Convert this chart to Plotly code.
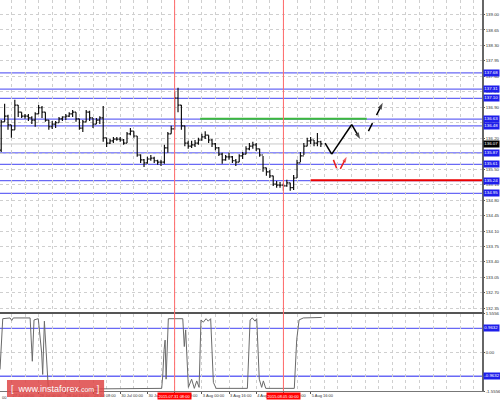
import plotly.graph_objects as go
from plotly.subplots import make_subplots

# ---- time axis: trading hours since 27 Jul 2015 00:00 (weekend skipped), 2-hour bars
bar_hours = list(range(2, 192, 2))

opens = [135.93, 136.57, 136.70, 136.50, 136.39, 136.95, 136.79, 136.70, 136.70, 136.66,
         136.61, 136.75, 136.89, 136.79, 136.61, 136.46, 136.52, 136.55, 136.64, 136.68,
         136.70, 136.75, 136.79, 136.64, 136.43, 136.57, 136.79, 136.66, 136.52, 136.61,
         136.66, 136.21, 136.09, 136.14, 136.18, 136.18, 136.16, 136.09, 136.30, 136.36,
         136.25, 135.82, 135.71, 135.64, 135.73, 135.75, 135.69, 135.66, 135.66, 135.98,
         136.30, 136.41, 137.11, 136.95, 136.48, 136.09, 136.02, 136.05, 136.09, 136.16,
         136.23, 136.27, 136.16, 136.07, 135.98, 135.84, 135.71, 135.78, 135.78, 135.69,
         135.66, 135.80, 135.84, 135.96, 136.02, 136.05, 135.96, 135.82, 135.53, 135.44,
         135.35, 135.16, 135.14, 135.14, 135.12, 135.19, 135.08, 135.30, 135.64, 135.80,
         136.02, 136.14, 136.16, 136.09, 136.12]
highs = [136.61, 136.98, 136.73, 136.50, 137.07, 136.95, 136.79, 136.75, 136.75, 136.70,
         136.79, 136.95, 136.93, 136.79, 136.61, 136.59, 136.59, 136.68, 136.70, 136.75,
         136.79, 136.84, 136.79, 136.64, 136.61, 136.84, 136.82, 136.66, 136.66, 136.70,
         136.93, 136.21, 136.18, 136.23, 136.23, 136.23, 136.18, 136.34, 136.43, 136.36,
         136.25, 135.84, 135.73, 135.78, 135.82, 135.78, 135.71, 135.71, 136.05, 136.34,
         136.48, 137.25, 137.34, 136.95, 136.48, 136.14, 136.14, 136.16, 136.21, 136.30,
         136.36, 136.27, 136.18, 136.09, 136.00, 135.87, 135.82, 135.87, 135.80, 135.73,
         135.84, 135.89, 136.02, 136.09, 136.12, 136.09, 135.96, 135.80, 135.53, 135.48,
         135.35, 135.23, 135.21, 135.19, 135.26, 135.19, 135.37, 135.71, 135.89, 136.09,
         136.21, 136.23, 136.16, 136.32, 136.14]
lows = [135.89, 136.57, 136.39, 136.21, 136.39, 136.68, 136.66, 136.64, 136.59, 136.52,
        136.46, 136.75, 136.66, 136.57, 136.39, 136.41, 136.43, 136.55, 136.59, 136.61,
        136.68, 136.68, 136.57, 136.39, 136.34, 136.57, 136.59, 136.43, 136.52, 136.52,
        136.12, 136.00, 136.07, 136.09, 136.14, 136.12, 136.05, 136.09, 136.27, 136.21,
        135.78, 135.64, 135.55, 135.62, 135.69, 135.64, 135.60, 135.57, 135.62, 135.87,
        136.30, 136.39, 136.79, 136.39, 136.02, 135.96, 135.98, 136.00, 136.05, 136.14,
        136.18, 136.09, 136.00, 135.93, 135.80, 135.62, 135.69, 135.71, 135.64, 135.57,
        135.66, 135.73, 135.84, 135.93, 135.96, 135.91, 135.78, 135.44, 135.35, 135.30,
        135.12, 135.08, 135.08, 135.01, 135.10, 135.01, 135.03, 135.30, 135.66, 135.82,
        136.02, 136.07, 136.02, 136.02, 136.00]
closes = [136.57, 136.70, 136.50, 136.39, 136.95, 136.79, 136.70, 136.70, 136.66, 136.61,
          136.75, 136.89, 136.79, 136.61, 136.46, 136.52, 136.55, 136.64, 136.68, 136.70,
          136.75, 136.79, 136.64, 136.43, 136.57, 136.79, 136.66, 136.52, 136.61, 136.66,
          136.21, 136.09, 136.14, 136.18, 136.18, 136.16, 136.09, 136.30, 136.36, 136.25,
          135.82, 135.71, 135.64, 135.73, 135.75, 135.69, 135.66, 135.66, 135.98, 136.30,
          136.41, 137.11, 136.95, 136.48, 136.09, 136.02, 136.05, 136.09, 136.16, 136.23,
          136.27, 136.16, 136.07, 135.98, 135.84, 135.71, 135.78, 135.78, 135.69, 135.66,
          135.80, 135.84, 135.96, 136.02, 136.05, 135.96, 135.82, 135.53, 135.44, 135.35,
          135.16, 135.14, 135.14, 135.12, 135.19, 135.08, 135.30, 135.64, 135.80, 136.02,
          136.14, 136.16, 136.09, 136.12, 136.07]

# ---- oscillator (lower panel)
ind_hours = [1.3, 2.9, 7.2, 8.2, 9.1, 19.0, 20.3, 21.3, 23.8, 24.8,
             25.8, 26.4, 27.4, 29.7, 60.0, 96.4, 97.0, 97.8, 98.4, 99.0,
             99.5, 100.3, 108.8, 109.7, 110.5, 112.1, 114.0, 115.6, 117.0, 118.4,
             119.5, 120.9, 122.5, 123.8, 125.2, 126.8, 128.4, 146.8, 148.4, 149.7,
             151.3, 152.3, 153.8, 155.2, 156.2, 157.6, 174.4, 175.8, 177.2, 179.7,
             190.5]
ind_values = [-0.69, 1.35, 1.38, 1.28, 1.38, 1.38, -0.36, 1.30, 1.35, 0.60,
              -0.03, -0.89, 1.25, -1.45, -1.47, -1.45, -0.95, 0.10, 0.49, -1.08,
              0.23, 1.35, 1.35, 0.23, 0.90, -1.41, -1.08, -1.45, -1.15, -1.41,
              1.30, 1.21, 1.35, 1.25, 1.35, -1.21, -1.45, -1.45, 1.30, 1.38,
              1.25, 1.35, -1.08, -1.41, -1.15, -1.45, -1.45, 0.50, 1.30, 1.38,
              1.40]
ind_level = 0.9632
ind_limit = 1.5556

# ---- levels and drawings
level_prices = [137.68, 137.31, 137.10, 136.63, 136.48, 135.87, 135.61, 135.24, 134.95]
current_price = 136.07
green_level = 136.64
green_span = [119, 217]
red_level = 135.25
red_span = [184, 284.8]
vline_hours = [104, 168]
vline_labels = ["2015.07.31 08:00", "2015.08.05 00:00"]

forecast_hours = [192.5, 196.4, 208.2, 213.1]
forecast_prices = [136.09, 135.84, 136.51, 136.18]
forecast2_hours = [218.0, 226.4]
forecast2_prices = [136.36, 137.00]
alt_hours = [197.4, 200.3, 205.2]
alt_prices = [135.71, 135.42, 135.78]

time_tick_hours = [8, 24, 40, 56, 72, 88, 104, 120, 136, 152, 168, 184]
time_tick_labels = ["27 Jul 08:00", "28 Jul 00:00", "28 Jul 16:00", "29 Jul 08:00",
                    "30 Jul 00:00", "30 Jul 16:00", "31 Jul 08:00", "3 Aug 00:00",
                    "3 Aug 16:00", "4 Aug 08:00", "5 Aug 00:00", "5 Aug 16:00"]
price_ticks = [132.35, 132.70, 133.05, 133.40, 133.75, 134.10, 134.45, 134.80, 135.15,
               135.50, 135.85, 136.20, 136.55, 136.90, 137.25, 137.60, 137.95, 138.30,
               138.65, 139.00]

X_RANGE = [1.29, 284.8]
FONT = "Liberation Sans, Arial, sans-serif"
GRID = "#cfcfcf"
LEVEL_BLUE = "rgb(105,105,245)"
BOX_BLUE = "rgb(30,30,235)"
LBL = 4.4

fig = make_subplots(rows=2, cols=1, shared_xaxes=True, vertical_spacing=0.003,
                    row_heights=[0.8, 0.2])

for p in level_prices:
    fig.add_shape(type="line", xref="x", yref="y", x0=X_RANGE[0], x1=X_RANGE[1],
                  y0=p, y1=p, line=dict(color=LEVEL_BLUE, width=1.3), layer="below")
fig.add_shape(type="line", xref="x", yref="y", x0=X_RANGE[0], x1=X_RANGE[1],
              y0=current_price, y1=current_price, line=dict(color="#c8c8c8", width=1), layer="below")
fig.add_shape(type="line", xref="x", yref="y", x0=green_span[0], x1=green_span[1],
              y0=green_level, y1=green_level, line=dict(color="rgb(60,185,60)", width=2))
fig.add_shape(type="line", xref="x", yref="y", x0=red_span[0], x1=red_span[1],
              y0=red_level, y1=red_level, line=dict(color="rgb(235,0,0)", width=2))

for p in [ind_level, -ind_level]:
    fig.add_shape(type="line", xref="x2", yref="y2", x0=X_RANGE[0], x1=X_RANGE[1],
                  y0=p, y1=p, line=dict(color=LEVEL_BLUE, width=1.3), layer="below")

for h in vline_hours:
    fig.add_shape(type="line", xref="x", yref="paper", x0=h, x1=h, y0=0, y1=1,
                  line=dict(color="rgb(255,105,105)", width=1))

fig.add_trace(go.Ohlc(x=bar_hours, open=opens, high=highs, low=lows, close=closes,
                      increasing=dict(line=dict(color="#111111", width=1.2)),
                      decreasing=dict(line=dict(color="#111111", width=1.2)),
                      tickwidth=0.45, showlegend=False, hoverinfo="skip"), row=1, col=1)

fig.add_trace(go.Scatter(x=ind_hours, y=ind_values, mode="lines",
                         line=dict(color="#6a6a6a", width=1), showlegend=False,
                         hoverinfo="skip"), row=2, col=1)

def arrow_trace(xs, ys, color, dash, size):
    sizes = [0] * (len(xs) - 1) + [size]
    return go.Scatter(x=xs, y=ys, mode="lines+markers",
                      line=dict(color=color, width=1.5, dash=dash),
                      marker=dict(symbol="arrow", size=sizes, angleref="previous",
                                  color=color, line=dict(width=0)),
                      showlegend=False, hoverinfo="skip")

fig.add_trace(arrow_trace(forecast_hours, forecast_prices, "black", "solid", 7), row=1, col=1)
fig.add_trace(arrow_trace(forecast2_hours, forecast2_prices, "black", "dash", 7), row=1, col=1)
fig.add_trace(arrow_trace(alt_hours, alt_prices, "rgb(235,30,30)", "dash", 6), row=1, col=1)

common_x = dict(range=X_RANGE, tickmode="array", tickvals=time_tick_hours,
                showgrid=True, gridcolor=GRID, griddash="dot", gridwidth=1,
                zeroline=False, rangeslider=dict(visible=False), automargin=False,
                minor=dict(tickmode="linear", tick0=0, dtick=8, showgrid=True,
                           gridcolor=GRID, griddash="dot", gridwidth=1))
fig.update_xaxes(**common_x)
fig.update_xaxes(row=1, col=1, showticklabels=False, ticks="", showline=True,
                 linecolor="#555555", linewidth=1.5)
fig.update_xaxes(row=2, col=1, ticktext=time_tick_labels, showticklabels=True,
                 ticks="outside", ticklen=2, tickcolor="#555555", tickangle=0,
                 ticklabelposition="outside right",
                 tickfont=dict(family=FONT, size=4, color="#333333"),
                 showline=True, linecolor="#777777", linewidth=1)

ycommon = dict(side="right", tickmode="array", automargin=False,
               tickfont=dict(family=FONT, size=LBL, color="#333333"),
               ticks="outside", ticklen=1, tickcolor="#555555",
               showgrid=True, gridcolor=GRID, griddash="dot", zeroline=False,
               showline=True, linecolor="#666666", linewidth=1.5)
fig.update_yaxes(row=1, col=1, domain=[0.201, 1.0], range=[132.258, 139.328],
                 tickvals=price_ticks, ticktext=[f"{v:.2f}" for v in price_ticks], **ycommon)
fig.update_yaxes(row=2, col=1, domain=[0.0, 0.198], range=[-ind_limit, ind_limit],
                 tickvals=[ind_limit, 0, -ind_limit],
                 ticktext=[f"{ind_limit:.4f}", "0.00", f"{-ind_limit:.4f}"], **ycommon)

annotations = []
def box(yref, y, text, color):
    return dict(xref="paper", x=1.0, xanchor="left", xshift=1, yref=yref, y=y,
                text=text, showarrow=False, bgcolor=color, borderpad=0.3,
                font=dict(family=FONT, size=LBL, color="white"))
for p in level_prices:
    annotations.append(box("y", p, f"{p:.2f}", BOX_BLUE))
annotations.append(box("y", current_price, f"{current_price:.2f}", "black"))
for p in [ind_level, -ind_level]:
    annotations.append(box("y2", p, f"{p:.4f}", BOX_BLUE))
for h, lab in zip(vline_hours, vline_labels):
    annotations.append(dict(xref="x", x=h, xanchor="center", yref="paper", y=0, yanchor="top",
                            yshift=-1, text=lab, showarrow=False, bgcolor="rgb(255,0,0)",
                            borderpad=0.5, font=dict(family=FONT, size=4, color="white")))
annotations.append(dict(xref="paper", x=0.0, xanchor="left", yref="paper", y=0, yanchor="top",
                        yshift=-2, text="00", showarrow=False,
                        font=dict(family=FONT, size=4, color="#333333")))
annotations.append(dict(xref="paper", x=0.115, xanchor="center", yref="paper", y=0.006,
                        yanchor="middle", showarrow=False,
                        text="[  www.instaforex<span style='font-size:7px'>.com</span> ]",
                        font=dict(family=FONT, size=9, color="white")))

fig.add_shape(type="rect", xref="paper", yref="paper", x0=0.0145, x1=0.216, y0=-0.0153, y1=0.028,
              fillcolor="rgba(222,70,70,0.85)", line=dict(width=0), layer="above")

fig.update_layout(width=500, height=402, margin=dict(l=0, r=18, t=0, b=11),
                  paper_bgcolor="white", plot_bgcolor="white",
                  annotations=annotations, showlegend=False,
                  font=dict(family=FONT))

fig.write_html("out.html", config={"displayModeBar": False},
               post_script="document.body.style.margin='0';document.body.style.overflow='hidden';")
